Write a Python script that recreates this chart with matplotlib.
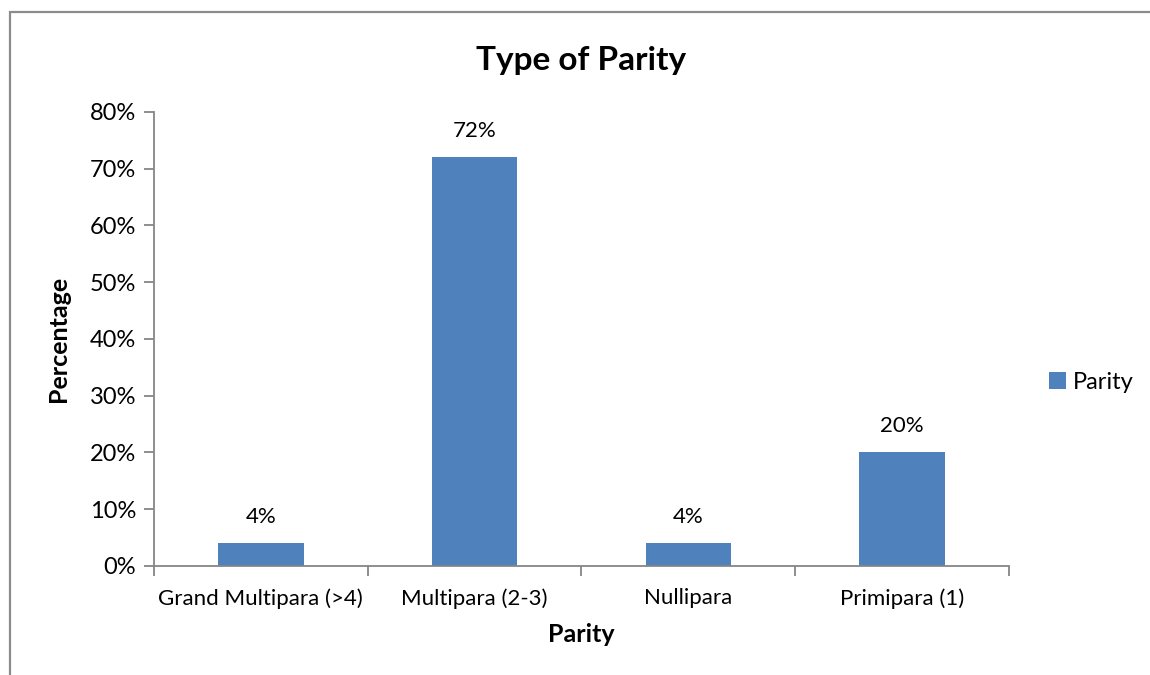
import matplotlib.pyplot as plt
from matplotlib.patches import Rectangle
from matplotlib.ticker import FuncFormatter, FixedLocator

# data
categories = ['Grand Multipara (>4)', 'Multipara (2-3)', 'Nullipara', 'Primipara (1)']
values = [4, 72, 4, 20]
series_name = 'Parity'

plt.rcParams['font.family'] = ['Lato', 'DejaVu Sans']

fig = plt.figure(figsize=(11.5, 6.75), dpi=100)
ax = fig.add_axes([0.1339, 0.1615, 0.7435, 0.6726])

# outer chart border (right/bottom cut off like the source)
fig.patches.append(Rectangle((10 / 1150, -0.1), 1.2, (675 - 12) / 675 + 0.1,
                             transform=fig.transFigure, fill=False,
                             edgecolor='#8c8c8c', linewidth=1.6))

x = range(len(categories))
bars = ax.bar(x, values, width=0.4, color='#4f81bd', label=series_name)

for xi, v in zip(x, values):
    ax.annotate(f'{v}%', (xi, v), xytext=(0, 12), textcoords='offset points',
                ha='center', va='bottom', fontsize=16)

ax.set_xlim(-0.5, len(categories) - 0.5)
ax.set_ylim(0, 80)
ax.set_yticks(range(0, 81, 10))
ax.yaxis.set_major_formatter(FuncFormatter(lambda v, p: f'{int(v)}%'))

ax.set_xticks(list(x))
ax.set_xticklabels(categories)
ax.xaxis.set_minor_locator(FixedLocator([i - 0.5 for i in range(len(categories) + 1)]))
ax.tick_params(axis='x', which='major', length=0, pad=16, labelsize=16)
ax.tick_params(axis='x', which='minor', length=7, color='#868686', width=1.3)
ax.tick_params(axis='y', length=7, color='#868686', width=1.3, labelsize=17, pad=6)

for s in ['top', 'right']:
    ax.spines[s].set_visible(False)
for s in ['left', 'bottom']:
    ax.spines[s].set_color('#868686')
    ax.spines[s].set_linewidth(1.3)

ax.set_title('Type of Parity', fontsize=24, fontweight='bold', pad=30)
ax.set_xlabel('Parity', fontsize=18, fontweight='bold', labelpad=10)
ax.set_ylabel('Percentage', fontsize=18, fontweight='bold', labelpad=14)

ax.legend(loc='center left', bbox_to_anchor=(1.022, 0.405), frameon=False,
          fontsize=17, handlelength=0.7, handleheight=0.7, handletextpad=0.3)

fig.savefig('out.png', dpi=100)
